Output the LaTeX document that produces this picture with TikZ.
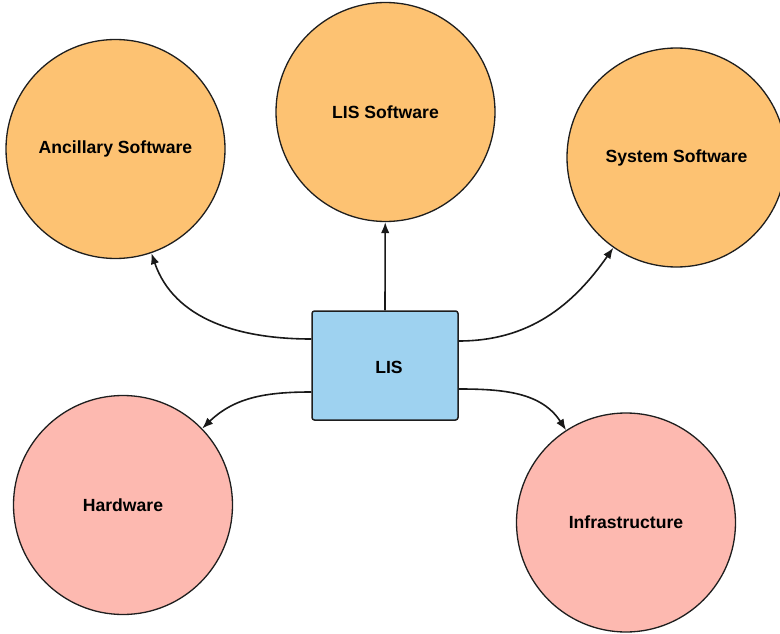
\documentclass[tikz,border=0pt]{standalone}
\usepackage{fontspec}
\setmainfont{Liberation Sans}
\usetikzlibrary{arrows.meta}

\definecolor{swfill}{HTML}{FDC272}
\definecolor{hwfill}{HTML}{FDB9B0}
\definecolor{corefill}{HTML}{9ED2F0}
\definecolor{edgeclr}{HTML}{1E1E1E}

\tikzset{
  lbl/.style={font=\fontsize{17.6}{20}\selectfont\bfseries, text=black},
  bubble/.style={circle, draw=edgeclr, line width=1.3pt, inner sep=0pt,
                 minimum size=219pt, lbl},
  softbubble/.style={bubble, fill=swfill},
  hardbubble/.style={bubble, fill=hwfill},
  corebox/.style={rectangle, rounded corners=2.5pt, draw=edgeclr, line width=1.5pt,
                  fill=corefill, minimum width=146pt, minimum height=109pt,
                  inner sep=0pt, lbl},
  link/.style={draw=black!90, line width=1.6pt,
               -{Latex[length=11pt,width=8.5pt]}}
}

\begin{document}
\begin{tikzpicture}[x=1pt, y=-1pt]
  \useasboundingbox (0,0) rectangle (780,634);

  % software components
  \node[softbubble] (anc)   at (115.5,149)   {Ancillary Software};
  \node[softbubble] (lissw) at (385.5,112)   {LIS Software};
  \node[softbubble] (sys)   at (676.5,157.5) {System Software};

  % hardware / infrastructure components
  \node[hardbubble] (hw)    at (123,505)     {Hardware};
  \node[hardbubble] (infra) at (626,522.5)   {Infrastructure};

  % central system
  \node[corebox] (lis) at (385,365.5) {};
  \node[lbl] (lislbl) at (389,367) {LIS};

  % connectors
  \draw[link] (lis.north) -- (lissw);
  \draw[link] ([yshift=26.5pt]lis.west) to[out=180, in=-71] (anc);
  \draw[link] ([yshift=24.5pt]lis.east) to[out=0, in=-125] (sys);
  \draw[link] ([yshift=-26.5pt]lis.west) to[out=180, in=44] (hw);
  \draw[link] ([yshift=-23.5pt]lis.east) to[out=0, in=123] (infra);
\end{tikzpicture}
\end{document}
